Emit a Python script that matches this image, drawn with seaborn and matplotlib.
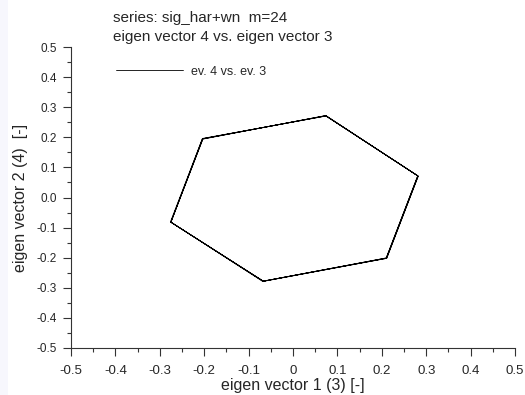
import numpy as np
import pandas as pd
import matplotlib
matplotlib.use("Agg")
import matplotlib.pyplot as plt
from matplotlib.ticker import MultipleLocator, FuncFormatter
import seaborn as sns

# eigen vector 3 (x) and eigen vector 4 (y), m=24 points, closed loop
ev3 = [0.074, 0.282, 0.211, -0.067, -0.275, -0.203,
       0.073, 0.281, 0.210, -0.067, -0.276, -0.204,
       0.075, 0.282, 0.211, -0.068, -0.275, -0.203,
       0.074, 0.281, 0.210, -0.067, -0.275, -0.204,
       0.074]
ev4 = [0.271, 0.071, -0.202, -0.278, -0.082, 0.194,
       0.272, 0.072, -0.201, -0.278, -0.081, 0.196,
       0.271, 0.071, -0.202, -0.279, -0.082, 0.195,
       0.272, 0.072, -0.201, -0.278, -0.082, 0.195,
       0.271]
df = pd.DataFrame({"ev3": ev3, "ev4": ev4})

sns.set_style("ticks")
plt.rcParams["font.family"] = ["Liberation Sans", "DejaVu Sans"]

fig = plt.figure(figsize=(5.25, 3.95), dpi=100)
fig.patch.set_facecolor("white")
# light strip on the left edge
fig.patches.append(plt.Rectangle((0, 0), 8 / 525, 1, transform=fig.transFigure,
                                 facecolor="#f7f7fd", edgecolor="none", zorder=-1))
ax = fig.add_axes([71 / 525, 1 - 348 / 395, 444 / 525, 301 / 395])

sns.lineplot(data=df, x="ev3", y="ev4", sort=False, estimator=None,
             color="black", linewidth=0.6, ax=ax, label="ev. 4 vs. ev. 3")

ax.set_xlim(-0.5, 0.5)
ax.set_ylim(-0.5, 0.5)
ax.xaxis.set_major_locator(MultipleLocator(0.1))
ax.xaxis.set_minor_locator(MultipleLocator(0.05))
ax.yaxis.set_major_locator(MultipleLocator(0.1))
ax.yaxis.set_minor_locator(MultipleLocator(0.05))
ax.xaxis.set_major_formatter(FuncFormatter(lambda v, p: "0" if abs(v) < 1e-9 else f"{v:.1f}"))
ax.yaxis.set_major_formatter(FuncFormatter(lambda v, p: f"{v:.1f}" if abs(v) > 1e-9 else "0.0"))
ax.tick_params(which="major", length=6, width=0.8, color="#333333", pad=4)
ax.tick_params(which="minor", length=3, width=0.8, color="#333333")
ax.tick_params(axis="x", labelsize=9.5, pad=6)
ax.tick_params(axis="y", labelsize=8.5)
for s in ["top", "right"]:
    ax.spines[s].set_visible(False)
for s in ["left", "bottom"]:
    ax.spines[s].set_color("#333333")
    ax.spines[s].set_linewidth(0.8)

ax.set_xlabel("eigen vector 1 (3) [-]", fontsize=11.5, labelpad=1)
ax.set_ylabel("eigen vector 2 (4)  [-]", fontsize=11.5, labelpad=6)

fig.text(113 / 525, 1 - 22 / 395, "series: sig_har+wn  m=24", fontsize=11, va="baseline")
fig.text(113 / 525, 1 - 41 / 395, "eigen vector 4 vs. eigen vector 3", fontsize=11, va="baseline")

ax.legend(loc="upper left", bbox_to_anchor=(0.075, 0.975), frameon=False,
          fontsize=9, handlelength=5.4, handletextpad=0.6)

fig.savefig("out.png", dpi=100)
